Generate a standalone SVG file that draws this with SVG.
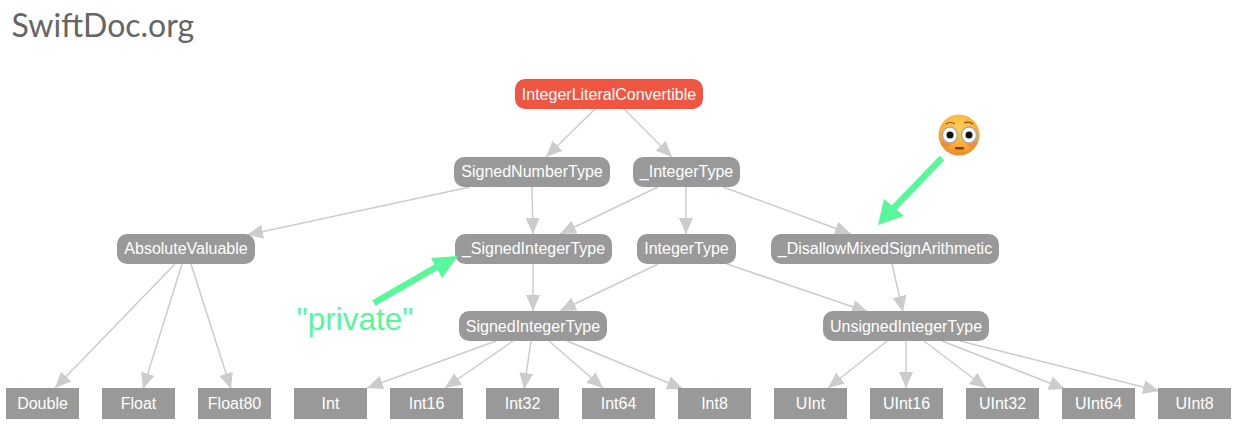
<svg xmlns="http://www.w3.org/2000/svg" width="1240" height="430" viewBox="0 0 1240 430">
<style>
.e{fill:none;stroke:#ccc;stroke-width:1.5;marker-end:url(#a)}
.n{fill:#999}
.r{fill:#f05542}
.t{font-family:"Liberation Sans",Arial,sans-serif;font-size:16px;fill:#fff;text-anchor:middle}
.g{fill:none;stroke:#57f79b;stroke-width:6.500}
</style>
<defs>
<marker id="a" markerUnits="userSpaceOnUse" markerWidth="18" markerHeight="16" refX="16" refY="7" orient="auto"><path d="M0,0L16,7L0,14Z" fill="#ccc"/></marker>
<radialGradient id="f" cx="50%" cy="30%" r="70%"><stop offset="0" stop-color="#fcd053"/><stop offset=".65" stop-color="#f8ae36"/><stop offset="1" stop-color="#ea8a2b"/></radialGradient>
</defs>
<rect width="1240" height="430" fill="#fff"/>
<text x="11.500" y="37" font-family="Lato,'Open Sans',sans-serif" font-size="32" fill="#666">SwiftDoc.org</text>
<g id="connectors">
<path class="e" d="M595,109L546,157"/>
<path class="e" d="M624,109L672,157"/>
<path class="e" d="M470,187L247,235"/>
<path class="e" d="M532,187L533,234"/>
<path class="e" d="M658,187L560,234"/>
<path class="e" d="M686,187L686,234"/>
<path class="e" d="M723,187L851,234"/>
<path class="e" d="M533,264L533,311"/>
<path class="e" d="M658,264L560,311"/>
<path class="e" d="M727,264L868,312"/>
<path class="e" d="M892,264L903,312"/>
<path class="e" d="M175,264L55,388"/>
<path class="e" d="M182,264L143,389"/>
<path class="e" d="M191,264L231,389"/>
<path class="e" d="M496,341L367,388"/>
<path class="e" d="M513,341L445,388"/>
<path class="e" d="M531,341L524,389"/>
<path class="e" d="M549,341L603,388"/>
<path class="e" d="M567,341L683,389"/>
<path class="e" d="M887,341L828,388"/>
<path class="e" d="M906,341L906,388"/>
<path class="e" d="M924,341L986,388"/>
<path class="e" d="M942,341L1065,389"/>
<path class="e" d="M960,341L1159,391"/>
</g>
<g id="IntegerLiteralConvertible"><rect class="r" x="515" y="79" width="188" height="30" rx="10"/><text class="t" x="609" y="100">IntegerLiteralConvertible</text></g>
<g id="SignedNumberType"><rect class="n" x="454" y="157" width="156" height="30" rx="10"/><text class="t" x="532" y="177">SignedNumberType</text></g>
<g id="_IntegerType"><rect class="n" x="633" y="157" width="107" height="30" rx="10"/><text class="t" x="686.500" y="177">_IntegerType</text></g>
<g id="AbsoluteValuable"><rect class="n" x="117" y="234" width="138" height="30" rx="10"/><text class="t" x="186" y="254">AbsoluteValuable</text></g>
<g id="_SignedIntegerType"><rect class="n" x="455" y="234" width="157" height="30" rx="10"/><text class="t" x="533.500" y="254">_SignedIntegerType</text></g>
<g id="IntegerType"><rect class="n" x="637" y="234" width="99" height="30" rx="10"/><text class="t" x="686.500" y="254">IntegerType</text></g>
<g id="_DisallowMixedSignArithmetic"><rect class="n" x="771" y="234" width="228" height="30" rx="10"/><text class="t" x="885" y="254">_DisallowMixedSignArithmetic</text></g>
<g id="SignedIntegerType"><rect class="n" x="459" y="311" width="148" height="30" rx="10"/><text class="t" x="533" y="332">SignedIntegerType</text></g>
<g id="UnsignedIntegerType"><rect class="n" x="823" y="311" width="166" height="30" rx="10"/><text class="t" x="906" y="332">UnsignedIntegerType</text></g>
<g id="Double"><rect class="n" x="6" y="388" width="73" height="31"/><text class="t" x="42.500" y="409">Double</text></g>
<g id="Float"><rect class="n" x="102" y="388" width="73" height="31"/><text class="t" x="138.500" y="409">Float</text></g>
<g id="Float80"><rect class="n" x="198" y="388" width="73" height="31"/><text class="t" x="234.500" y="409">Float80</text></g>
<g id="Int"><rect class="n" x="294" y="388" width="73" height="31"/><text class="t" x="330.500" y="409">Int</text></g>
<g id="Int16"><rect class="n" x="390" y="388" width="73" height="31"/><text class="t" x="426.500" y="409">Int16</text></g>
<g id="Int32"><rect class="n" x="486" y="388" width="73" height="31"/><text class="t" x="522.500" y="409">Int32</text></g>
<g id="Int64"><rect class="n" x="582" y="388" width="73" height="31"/><text class="t" x="618.500" y="409">Int64</text></g>
<g id="Int8"><rect class="n" x="678" y="388" width="73" height="31"/><text class="t" x="714.500" y="409">Int8</text></g>
<g id="UInt"><rect class="n" x="774" y="388" width="73" height="31"/><text class="t" x="810.500" y="409">UInt</text></g>
<g id="UInt16"><rect class="n" x="870" y="388" width="73" height="31"/><text class="t" x="906.500" y="409">UInt16</text></g>
<g id="UInt32"><rect class="n" x="966" y="388" width="73" height="31"/><text class="t" x="1002.500" y="409">UInt32</text></g>
<g id="UInt64"><rect class="n" x="1062" y="388" width="73" height="31"/><text class="t" x="1098.500" y="409">UInt64</text></g>
<g id="UInt8"><rect class="n" x="1158" y="388" width="73" height="31"/><text class="t" x="1194.500" y="409">UInt8</text></g>
<g id="annotations">
<path class="g" d="M374,303L440,265"/>
<path d="M458,256L442,278L431,258Z" fill="#57f79b"/>
<path class="g" d="M942,158L891,211"/>
<path d="M878,225L884,199L904,216Z" fill="#57f79b"/>
<text x="296.500" y="330" font-family="'Liberation Sans',Arial,sans-serif" font-size="31.500" fill="#57f79b">"private"</text>
<circle cx="959" cy="135" r="20.500" fill="url(#f)"/>
<ellipse cx="946" cy="143" rx="5" ry="4" fill="#f0763a" opacity=".45"/>
<ellipse cx="972" cy="143" rx="5" ry="4" fill="#f0763a" opacity=".45"/>
<ellipse cx="950" cy="135" rx="7.500" ry="8" fill="#fff" stroke="#aaa" stroke-width="1.500"/>
<ellipse cx="969" cy="135" rx="7.500" ry="8" fill="#fff" stroke="#aaa" stroke-width="1.500"/>
<circle cx="950" cy="135" r="3.500" fill="#111"/><circle cx="969" cy="135" r="3.500" fill="#111"/>
<path d="M946,124Q950,121 955,124M964,123Q969,121 973,124" fill="none" stroke="#8a4b12" stroke-width="1.200"/>
<rect x="955" y="147" width="9" height="2.500" rx="1" fill="#7a3f12"/>
</g>
</svg>
